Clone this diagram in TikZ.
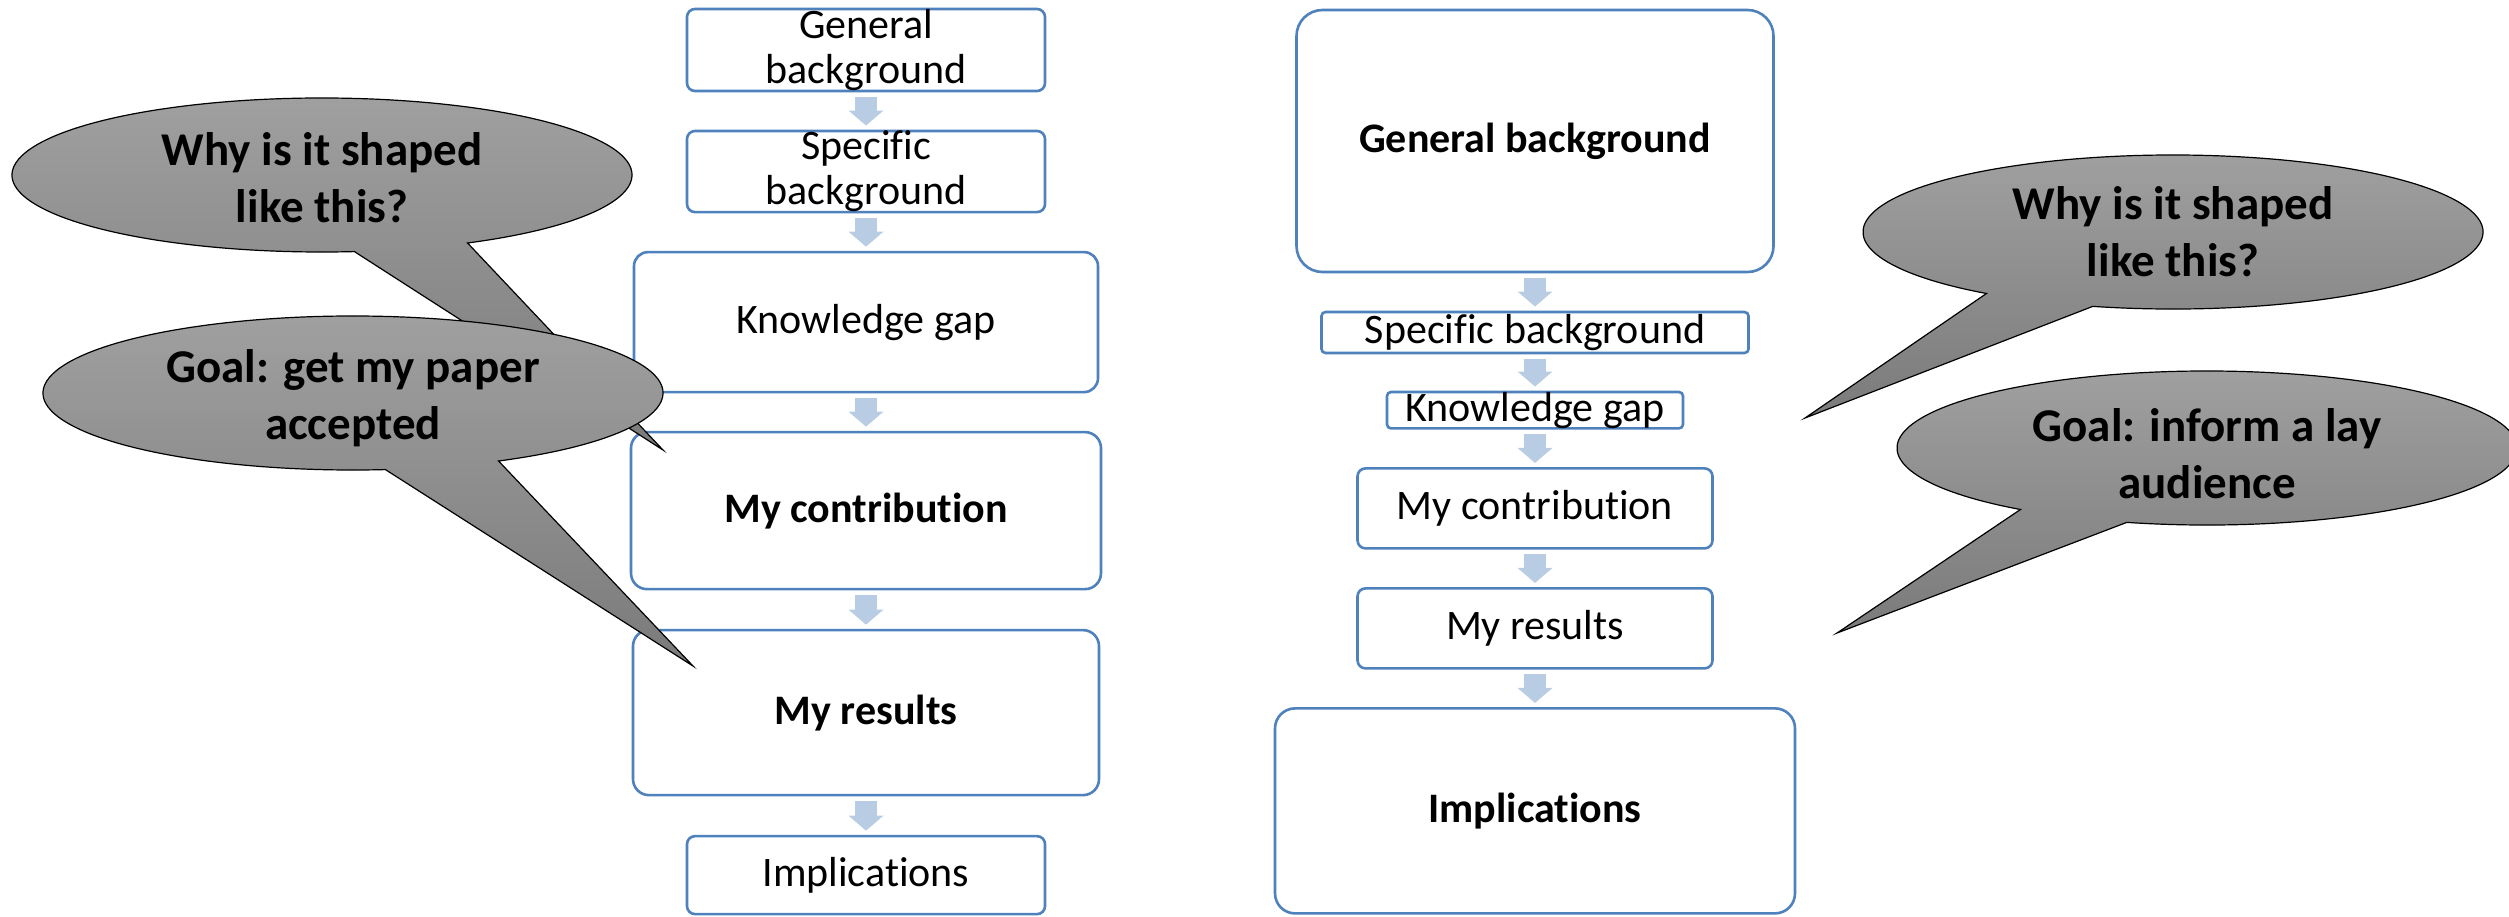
\documentclass[tikz,border=0pt]{standalone}
\usepackage{fontspec}
\setmainfont{Carlito}[Ligatures=NoCommon]
\usetikzlibrary{
    positioning, % For placing the stage boxes below one another
    arrows.meta, % For the broad arrow tips
    calc         % For points on the bubble outlines
}
\definecolor{boxblue}{RGB}{79,129,189}
\definecolor{arrowblue}{RGB}{184,204,228}
\tikzset{
    % A rounded box for one stage of the story
    stage_box/.style={
        rectangle, rounded corners=#1, draw=boxblue, line width=1.3pt,
        fill=white, inner sep=0pt, outer sep=0pt, align=center,
        font=\fontsize{21}{22.5}\selectfont
    },
    stage_box/.default=4pt,
    % A broad pale arrow between two stages
    flow_arrow/.style={
        draw=arrowblue, line width=11pt,
        -{Triangle[width=17.5pt, length=7.5pt, line width=0pt]},
        shorten <=2.75pt, shorten >=2.75pt
    },
    % A grey speech bubble
    bubble_shape/.style={
        draw=black, line width=0.6pt, top color=black!37, bottom color=black!52
    },
    bubble_text/.style={
        align=center, inner sep=0pt,
        font=\fontsize{23.5}{28.5}\selectfont\bfseries
    }
}

\begin{document}
\begin{tikzpicture}[x=0.5pt, y=0.5pt]

\useasboundingbox[fill=white] (0,0) rectangle (2509,-916);

% --- LEFT COLUMN: THE PAPER ---
\node[stage_box, anchor=north, minimum width=179pt, minimum height=41pt] (gb_left) at (866,-9) {General\\background};
\node[stage_box, below=20pt of gb_left, minimum width=179pt, minimum height=40.5pt] (sb_left) {Specific\\background};
\node[stage_box=7pt, below=20pt of sb_left, minimum width=232pt, minimum height=70pt] (kg_left) {Knowledge gap};
\node[stage_box=8pt, below=20pt of kg_left, minimum width=235pt, minimum height=78.5pt] (mc_left) {\textbf{My contribution}};
\node[stage_box=8pt, below=20.5pt of mc_left, minimum width=233pt, minimum height=82.5pt] (mr_left) {\textbf{My results}};
\node[stage_box, below=20.5pt of mr_left, minimum width=179pt, minimum height=39pt] (impl_left) {Implications};

\draw[flow_arrow] (gb_left) -- (sb_left);
\draw[flow_arrow] (sb_left) -- (kg_left);
\draw[flow_arrow] (kg_left) -- (mc_left);
\draw[flow_arrow] (mc_left) -- (mr_left);
\draw[flow_arrow] (mr_left) -- (impl_left);

% --- RIGHT COLUMN: THE LAY ARTICLE ---
\node[stage_box=13pt, anchor=north, minimum width=238.5pt, minimum height=131pt] (gb_right) at (1535,-10) {\textbf{General background}};
\node[stage_box=2pt, below=20pt of gb_right, minimum width=213.5pt, minimum height=20.5pt] (sb_right) {Specific background};
\node[stage_box=2pt, below=19.5pt of sb_right, minimum width=148pt, minimum height=18pt] (kg_right) {Knowledge gap};
\node[stage_box, below=20pt of kg_right, minimum width=177.5pt, minimum height=40pt] (mc_right) {My contribution};
\node[stage_box, below=20pt of mc_right, minimum width=177.5pt, minimum height=40pt] (mr_right) {My results};
\node[stage_box=10pt, below=20pt of mr_right, minimum width=260pt, minimum height=102.5pt] (impl_right) {\textbf{Implications}};

\draw[flow_arrow] (gb_right) -- (sb_right);
\draw[flow_arrow] (sb_right) -- (kg_right);
\draw[flow_arrow] (kg_right) -- (mc_right);
\draw[flow_arrow] (mc_right) -- (mr_right);
\draw[flow_arrow] (mr_right) -- (impl_right);

% --- SPEECH BUBBLES ---
\coordinate (why_left_c) at (322,-175);
\coordinate (why_left_tip) at (663,-450);
\coordinate (goal_left_c) at (353,-393);
\coordinate (goal_left_tip) at (693,-666);
\coordinate (why_right_c) at (2173,-232);
\coordinate (why_right_tip) at (1805,-418);
\coordinate (goal_right_c) at (2207,-448);
\coordinate (goal_right_tip) at (1837,-633);

\draw[bubble_shape] ($(why_left_c)+(-62:155pt and 38.5pt)$)
    arc[start angle=-62, end angle=276, x radius=155pt, y radius=38.5pt] -- (why_left_tip) -- cycle;
\node[bubble_text, yshift=-1.5pt] (why_left) at (why_left_c) {Why is it shaped\\like this?};

\draw[bubble_shape] ($(goal_left_c)+(-62:155pt and 38.5pt)$)
    arc[start angle=-62, end angle=276, x radius=155pt, y radius=38.5pt] -- (goal_left_tip) -- cycle;
\node[bubble_text, yshift=-2.5pt] (goal_left) at (goal_left_c) {Goal: get my paper\\accepted};

\draw[bubble_shape] ($(why_right_c)+(-105:155pt and 38.5pt)$)
    arc[start angle=-105, end angle=233, x radius=155pt, y radius=38.5pt] -- (why_right_tip) -- cycle;
\node[bubble_text] (why_right) at (why_right_c) {Why is it shaped\\like this?};

\draw[bubble_shape] ($(goal_right_c)+(-105:155pt and 38.5pt)$)
    arc[start angle=-105, end angle=233, x radius=155pt, y radius=38.5pt] -- (goal_right_tip) -- cycle;
\node[bubble_text, yshift=-3pt] (goal_right) at (goal_right_c) {Goal: inform a lay\\audience};

\end{tikzpicture}
\end{document}
